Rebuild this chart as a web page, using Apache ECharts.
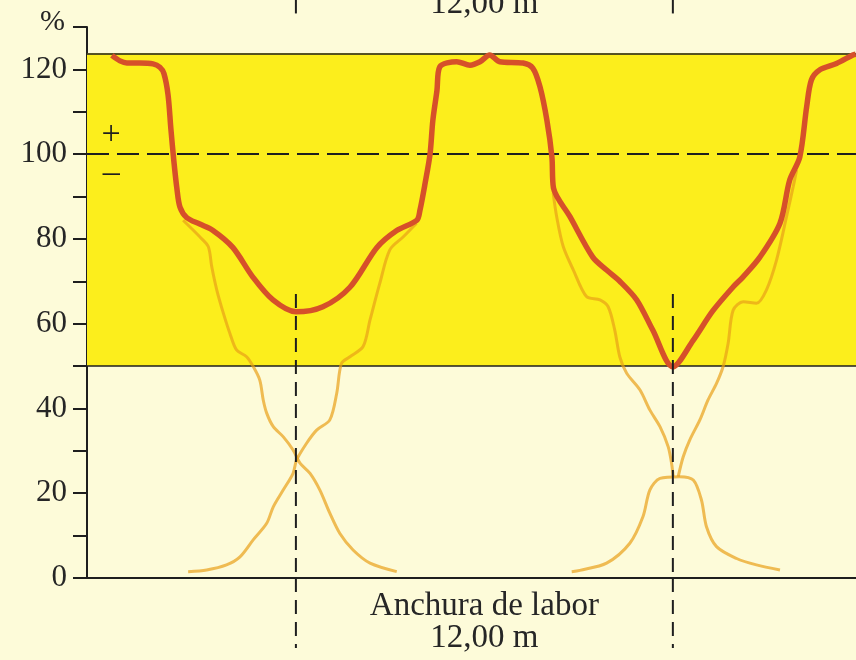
<!DOCTYPE html>
<html>
<head>
<meta charset="utf-8">
<script src="https://cdn.jsdelivr.net/npm/echarts@6/dist/echarts.min.js"></script>
<style>
  html, body { margin: 0; padding: 0; background: #fdfbd9; }
  #chart-panel { width: 856px; height: 660px; }
</style>
</head>
<body>
<div id="chart-panel"></div>
<script>
// x in metres (0 and 12 = the two dashed guide lines), y in %
var totalCurve = [
  [-5.86, 123.3], [-5.6, 122], [-5.38, 121.5], [-4.97, 121.5], [-4.55, 121.3], [-4.33, 120.5],
  [-4.2, 119], [-4.07, 114], [-3.98, 106], [-3.88, 98], [-3.79, 92], [-3.69, 87.5], [-3.47, 85],
  [-3.06, 83.5], [-2.64, 82], [-2.01, 78], [-1.37, 71], [-0.73, 65.6], [0, 62.8], [0.86, 64],
  [1.72, 68.6], [2.58, 78], [3.21, 82], [3.85, 84.4], [3.95, 86.8], [4.11, 93], [4.27, 100],
  [4.36, 108], [4.49, 115], [4.58, 120.6], [5.12, 121.8], [5.54, 121], [5.86, 121.8], [6.17, 123.4],
  [6.49, 121.8], [7.23, 121.5], [7.54, 120.3], [7.77, 115.9], [7.99, 108], [8.15, 99.3], [8.2, 92],
  [8.72, 85.3], [9.45, 75.7], [9.9, 72.6], [10.31, 70], [10.85, 65.6], [11.36, 58.5], [12, 49.8],
  [12.64, 56], [13.27, 63], [13.91, 68.6], [14.23, 71], [14.77, 75.7], [15.41, 83.7], [15.72, 93.9],
  [16.04, 99.3], [16.26, 111.2], [16.41, 117.5], [16.68, 119.9], [17.21, 121.4], [17.73, 123.4], [17.82, 123.6]
];
var passA = [
  [-3.59, 84.4], [-3.06, 80.5], [-2.79, 78.2], [-2.68, 73.5], [-2.52, 68], [-2.31, 62.5], [-2.1, 57.7],
  [-1.89, 53.8], [-1.57, 52.2], [-1.36, 49.9], [-1.15, 46.7], [-1.04, 42], [-0.93, 38.9], [-0.72, 35.7],
  [-0.4, 33.3], [-0.09, 30.2], [0.13, 27.1], [0.45, 24.7], [0.76, 20.8], [1.08, 15.3], [1.4, 10.5],
  [1.82, 6.6], [2.36, 3.5], [3.21, 1.5]
];
var passB = [
  [-3.43, 1.5], [-2.84, 1.9], [-2.21, 3.1], [-1.78, 5], [-1.36, 9], [-0.93, 12.9], [-0.72, 16.8],
  [-0.4, 20.8], [-0.09, 24.7], [0.02, 27.8], [0.34, 31.8], [0.66, 34.9], [1.08, 37.3], [1.3, 43.6],
  [1.45, 50.6], [1.72, 52.2], [2.14, 54.6], [2.36, 60.9], [2.67, 69.5], [2.99, 77.4], [3.42, 80.5],
  [3.84, 83.7]
];
var passC = [
  [8.19, 90.8], [8.3, 85.3], [8.51, 78.2], [8.83, 72.7], [9.25, 66.4], [9.68, 65.6], [9.94, 64],
  [10.15, 58.5], [10.31, 52.2], [10.53, 48.3], [10.95, 44.4], [11.27, 39.6], [11.59, 35.7],
  [11.85, 31], [11.96, 27], [12.01, 23.9]
];
var passD = [
  [12.17, 23.9], [12.33, 28.6], [12.54, 32.6], [12.86, 37.3], [13.12, 42], [13.39, 45.9], [13.6, 49.9],
  [13.76, 55.4], [13.92, 63.2], [14.24, 65.2], [14.66, 64.8], [14.98, 68], [15.3, 75], [15.62, 85.3],
  [15.83, 92.3], [15.94, 96.3]
];
var passE = [
  [8.78, 1.5], [9.04, 1.8], [9.89, 3.5], [10.63, 8.2], [11.05, 14.5], [11.27, 20.8], [11.59, 23.5],
  [12.22, 23.9], [12.65, 23.1], [12.91, 18.4], [13.07, 12.1], [13.39, 7.4], [14.03, 4.6], [14.66, 3.1],
  [15.41, 1.9]
];
var bandLow = 50;
var bandHigh = 123.8;
var refLine = 100;
var guideX = [0, 12];
var xRange = [-6.65, 17.83];

var serif = 'Liberation Serif';
var ink = '#1e1e1e';
var thin = 'rgba(232, 160, 24, 0.7)';

function passSeries (data) {
  return {
    type: 'line',
    data: data,
    smooth: 0.3,
    symbol: 'none',
    z: 3,
    lineStyle: { color: thin, width: 3 }
  };
}

var chart = echarts.init(document.getElementById('chart-panel'));
var option = {
  backgroundColor: '#fdfbd9',
  animation: false,
  grid: { left: 87, right: 0, top: 27, bottom: 82 },
  xAxis: {
    type: 'value',
    min: xRange[0],
    max: xRange[1],
    axisLine: { show: true, onZero: false, lineStyle: { color: ink, width: 2 } },
    axisTick: { show: false },
    axisLabel: { show: false },
    splitLine: { show: false }
  },
  yAxis: {
    type: 'value',
    min: 0,
    max: 130,
    interval: 10,
    axisLine: { show: true, onZero: false, lineStyle: { color: ink, width: 2 } },
    axisTick: { show: true, length: 14, lineStyle: { color: ink, width: 2 } },
    splitLine: { show: false },
    axisLabel: {
      margin: 20,
      fontFamily: serif,
      fontSize: 31,
      color: '#262626',
      formatter: function (v) {
        if (v === 130) return '{p|%}';
        return v % 20 === 0 ? String(v) : '';
      },
      rich: {
        p: { fontFamily: serif, fontSize: 30, color: '#262626', padding: [0, 2, 10, 0] }
      }
    }
  },
  series: [
    {
      type: 'line',
      data: totalCurve,
      smooth: 0.3,
      symbol: 'none',
      z: 4,
      lineStyle: { color: '#d6502a', width: 5.5 },
      markArea: {
        silent: true,
        itemStyle: { color: '#fcee1c' },
        data: [[{ coord: [xRange[0], bandLow] }, { coord: [xRange[1], bandHigh] }]]
      },
      markLine: {
        silent: true,
        symbol: 'none',
        z: 2,
        label: { show: false },
        data: [
          { yAxis: bandHigh, lineStyle: { color: ink, width: 1.5, type: 'solid' } },
          { yAxis: bandLow, lineStyle: { color: ink, width: 1.5, type: 'solid' } },
          { yAxis: refLine, lineStyle: { color: ink, width: 2, type: [22, 8] } }
        ]
      }
    },
    passSeries(passA),
    passSeries(passB),
    passSeries(passC),
    passSeries(passD),
    passSeries(passE)
  ]
};
chart.setOption(option);

// guide lines and captions that sit partly outside the plot area
function px (x, y) {
  return chart.convertToPixel({ xAxisIndex: 0, yAxisIndex: 0 }, [x, y]);
}
var graphics = [];
guideX.forEach(function (gx) {
  [[67, 0], [0, -16.5], [136.5, 132]].forEach(function (seg) {
    var a = px(gx, seg[0]), b = px(gx, seg[1]);
    graphics.push({
      type: 'line',
      z: 10,
      shape: { x1: a[0], y1: a[1], x2: b[0], y2: b[1] },
      style: { stroke: ink, lineWidth: 2, lineDash: [14, 8] }
    });
  });
});
var mid = px((guideX[0] + guideX[1]) / 2, 0)[0];
function caption (text, y, size) {
  return {
    type: 'text',
    z: 10,
    x: mid,
    y: y,
    style: {
      text: text, fontFamily: serif, fontSize: size, fill: '#262626',
      align: 'center', verticalAlign: 'middle'
    }
  };
}
graphics.push(caption('Anchura de labor', 606, 33));
graphics.push(caption('12,00 m', 638, 33));
graphics.push(caption('12,00 m', 4, 33));
var plus = px(-5.88, 104.5), minus = px(-5.88, 95.6);
graphics.push({
  type: 'text', z: 10, x: plus[0], y: plus[1],
  style: { text: '+', fontFamily: serif, fontSize: 34, fill: ink, align: 'center', verticalAlign: 'middle' }
});
graphics.push({
  type: 'text', z: 10, x: minus[0], y: minus[1],
  style: { text: '\u2013', fontFamily: serif, fontSize: 34, fill: ink, align: 'center', verticalAlign: 'middle' }
});
chart.setOption({ graphic: graphics });
</script>
</body>
</html>
